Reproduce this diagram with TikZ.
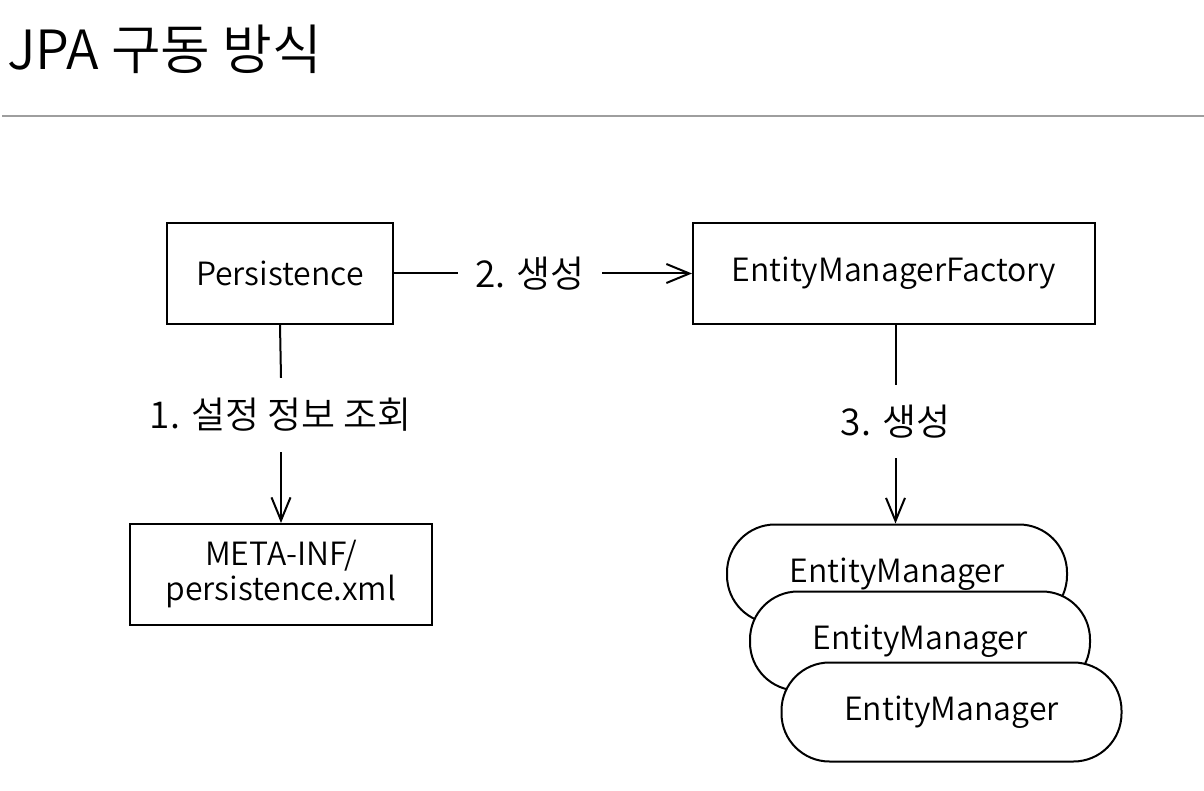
\documentclass[tikz,border=0pt]{standalone}
\usepackage{fontspec}
\setmainfont{Noto Sans CJK KR}[UprightFont={* DemiLight}]
\usetikzlibrary{arrows.meta}
\tikzset{
  box/.style={draw=black, line width=2pt, minimum height=101pt, inner sep=0pt, align=center, font=\fontsize{32}{35}\selectfont},
  stadium/.style={draw=black, fill=white, line width=2pt, rounded corners=48pt, minimum width=340pt, minimum height=99pt, inner sep=0pt, font=\fontsize{32}{35}\selectfont},
  lbl/.style={inner sep=0pt, font=\fontsize{37}{40}\selectfont},
  conn/.style={line width=2pt},
  arr/.style={line width=2pt, -{Straight Barb[length=23pt,width=19pt,line width=2pt]}}
}
\begin{document}
\begin{tikzpicture}[x=1pt,y=-1pt]
\useasboundingbox (0,0) rectangle (1204,791);
\fill[white] (0,0) rectangle (1204,791);
\node[anchor=base west, inner sep=0pt, font=\fontsize{54}{60}\selectfont] (title) at (7,70) {JPA 구동 방식};
\draw[black!38, line width=1.5pt] (2,116) -- (1204,116);

\node[box, minimum width=226pt] (pers) at (280,273.5) {Persistence};
\node[box, minimum width=402pt] (emf) at (894,273.5) {EntityManagerFactory};
\node[box, minimum width=302pt] (meta) at (281,574.5) {META-INF/\\persistence.xml};

\node[stadium] (em1) at (897,574) {EntityManager};
\node[stadium] (em2) at (920,641) {EntityManager};
\node[stadium] (em3) at (951.5,712) {EntityManager};

\node[lbl, minimum width=144pt] (l2) at (530,273.5) {2. 생성};
\node[lbl, minimum height=74pt] (l1) at (281,415) {1. 설정 정보 조회};
\node[lbl, minimum height=73pt] (l3) at (895.5,421.5) {3. 생성};

\draw[conn] (pers.east) -- (l2.west);
\draw[arr] (l2.east) -- (emf.west);
\draw[conn] (pers.south) -- (l1.north);
\draw[arr] (l1.south) -- (meta.north);
\draw[conn] (emf.south -| l3.north) -- (l3.north);
\draw[arr] (l3.south) -- (l3.south |- em1.north);
\end{tikzpicture}
\end{document}
